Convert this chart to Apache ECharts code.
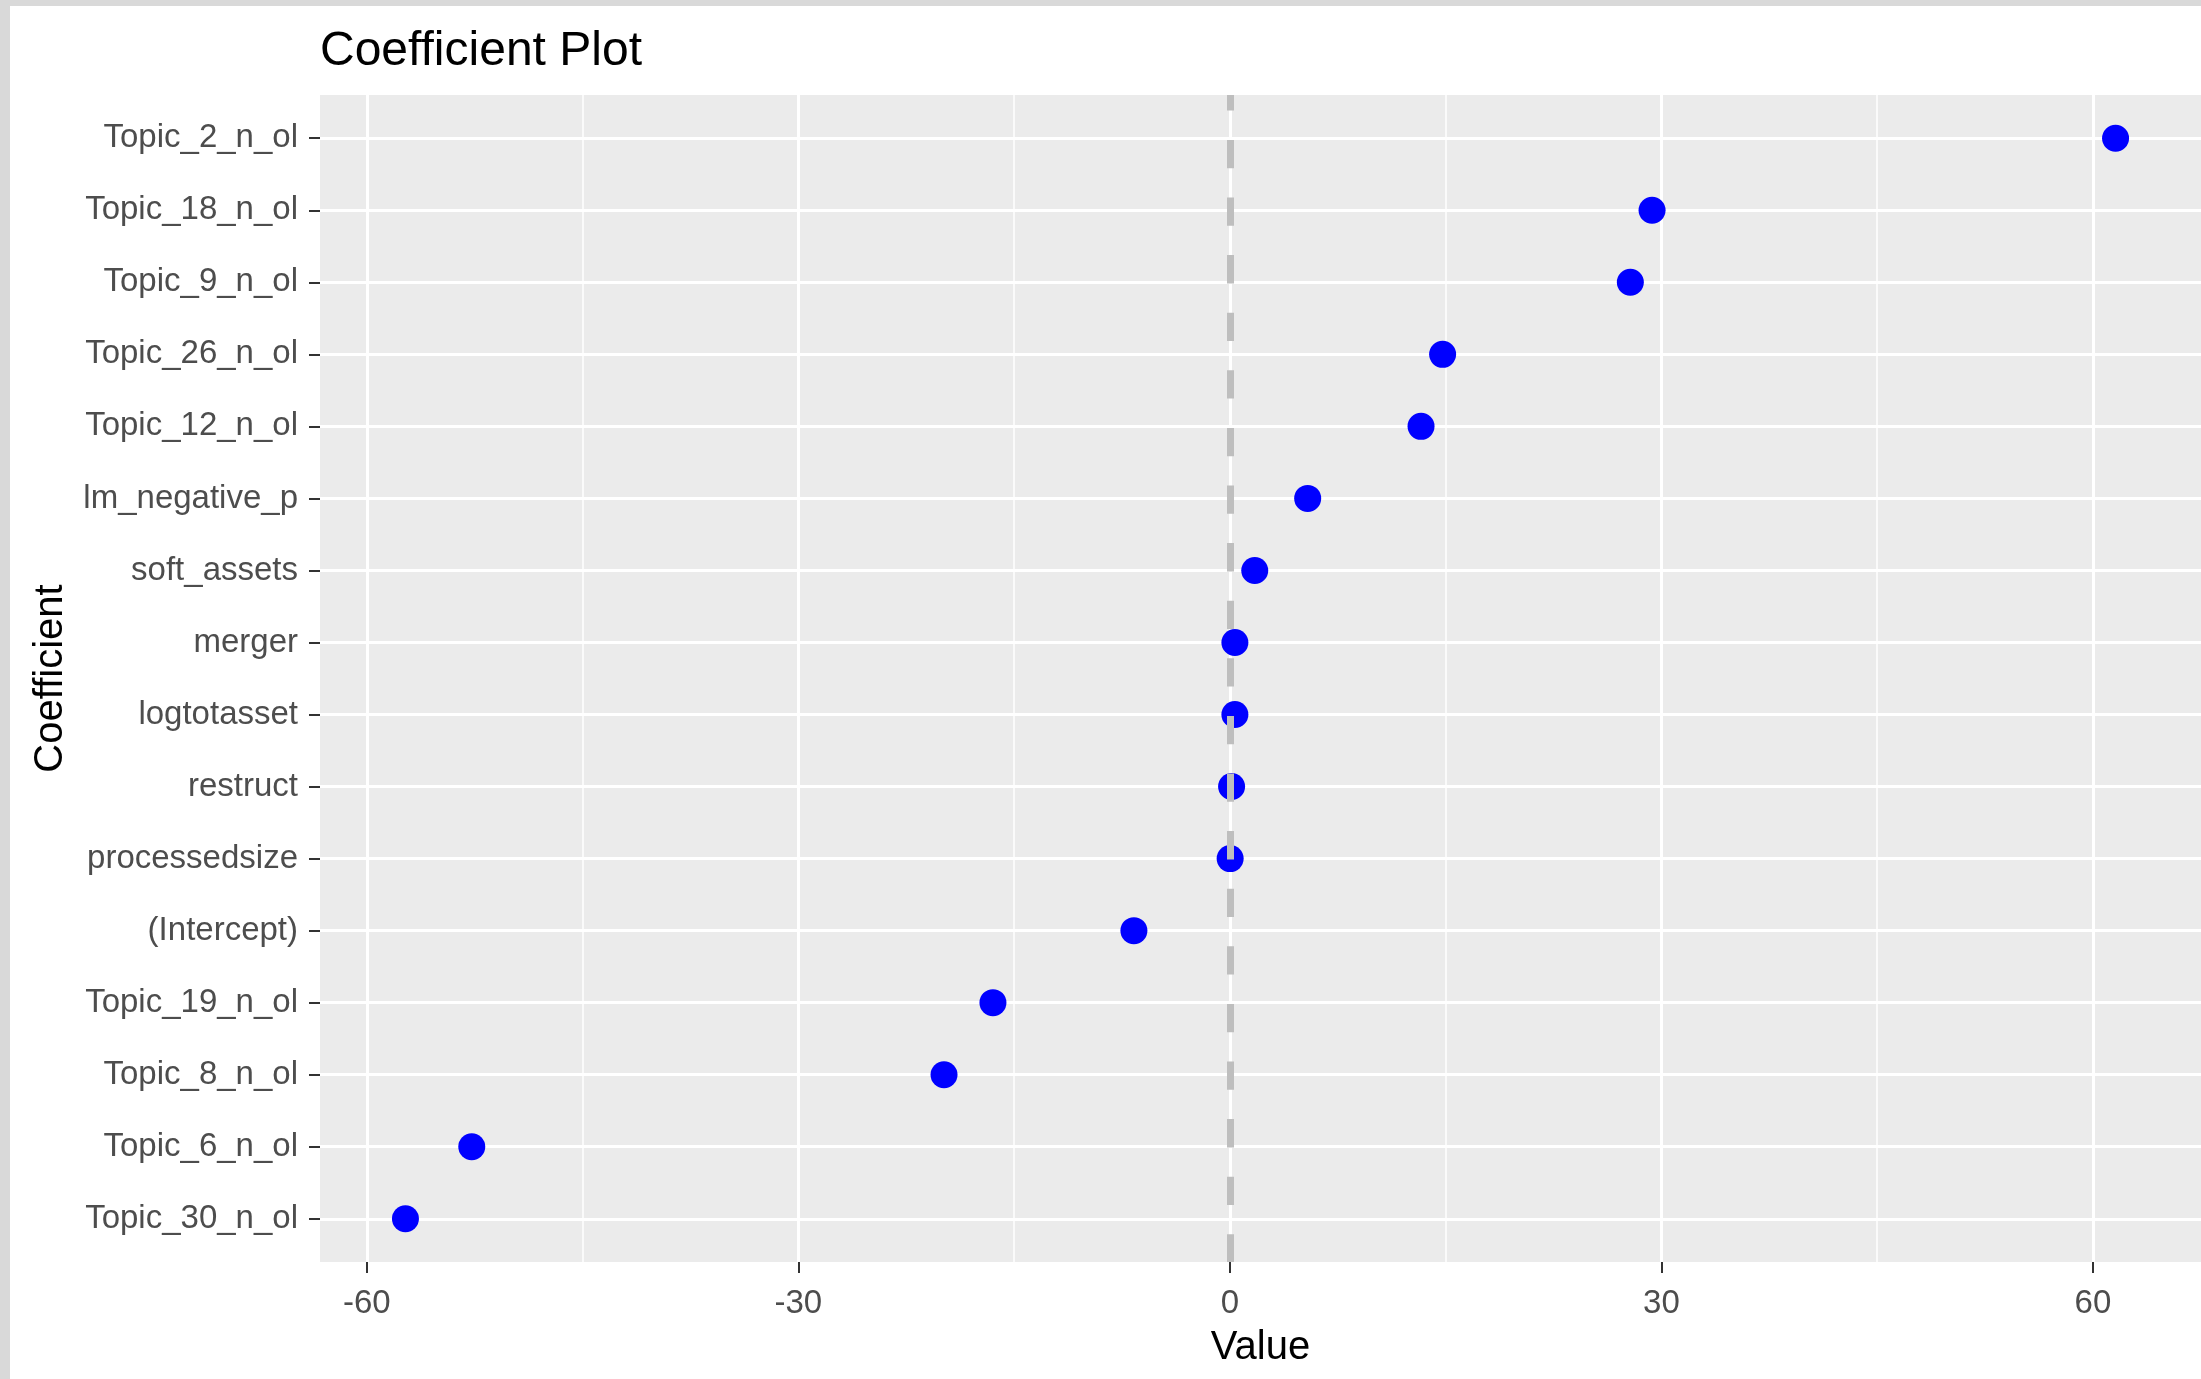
<!DOCTYPE html>
<html>
<head>
<meta charset="utf-8">
<title>Coefficient Plot</title>
<script src="https://cdn.jsdelivr.net/npm/echarts@6/dist/echarts.min.js"></script>
<style>
  html, body {
    margin: 0;
    padding: 0;
    width: 2201px;
    height: 1379px;
    overflow: hidden;
    background: #d9d9d9;
  }
  #chart_coef {
    position: absolute;
    left: 10px;
    top: 6px;
    width: 2191px;
    height: 1373px;
    background: #ffffff;
  }
</style>
</head>
<body>
<div id="chart_coef"></div>
<script>
// coefficient names, top to bottom
var coefNames = [
  "Topic_2_n_ol",
  "Topic_18_n_ol",
  "Topic_9_n_ol",
  "Topic_26_n_ol",
  "Topic_12_n_ol",
  "lm_negative_p",
  "soft_assets",
  "merger",
  "logtotasset",
  "restruct",
  "processedsize",
  "(Intercept)",
  "Topic_19_n_ol",
  "Topic_8_n_ol",
  "Topic_6_n_ol",
  "Topic_30_n_ol"
];
// estimated coefficient values
var coefValues = [61.57, 29.35, 27.84, 14.79, 13.29, 5.41, 1.73, 0.35, 0.35, 0.12, 0.02, -6.67, -16.47, -19.87, -52.7, -57.31];
var xTicks = [-60, -30, 0, 30, 60];
var xMinorTicks = [-45, -15, 15, 45];

var fontFamily = "Liberation Sans, Arial, sans-serif";
var yIndex = coefNames.map(function(n, i) { return i; });
var points = coefValues.map(function(v, i) { return [v, i]; });

var myChart = echarts.init(document.getElementById("chart_coef"));
var option = {
  animation: false,
  title: {
    text: "Coefficient Plot",
    left: 310,
    top: 22,
    padding: 0,
    textStyle: {
      fontFamily: fontFamily,
      fontSize: 48,
      fontWeight: "normal",
      color: "#000000"
    }
  },
  grid: {
    left: 310,
    top: 89,
    right: 0,
    bottom: 117,
    show: true,
    backgroundColor: "#EBEBEB",
    borderWidth: 0
  },
  xAxis: [
    {
      type: "value",
      min: -63.25,
      max: 67.51,
      axisLine: { show: false, onZero: false },
      axisTick: {
        show: true,
        length: 11,
        customValues: xTicks,
        lineStyle: { color: "#333333", width: 2 }
      },
      axisLabel: {
        customValues: xTicks,
        margin: 25,
        color: "#4D4D4D",
        fontFamily: fontFamily,
        fontSize: 33
      },
      splitLine: {
        show: true,
        lineStyle: { color: "#FFFFFF", width: 3 }
      },
      name: "Value",
      nameLocation: "middle",
      nameGap: 66,
      nameTextStyle: {
        color: "#000000",
        fontFamily: fontFamily,
        fontSize: 40
      }
    },
    {
      // minor grid lines only
      type: "value",
      position: "bottom",
      min: -63.25,
      max: 67.51,
      axisLine: { show: false, onZero: false },
      axisTick: { show: false, customValues: xMinorTicks },
      axisLabel: { show: false, customValues: xMinorTicks },
      splitLine: {
        show: true,
        lineStyle: { color: "#FFFFFF", width: 1.5 }
      }
    }
  ],
  yAxis: {
    type: "value",
    inverse: true,
    min: -0.6,
    max: 15.6,
    axisLine: { show: false, onZero: false },
    axisTick: {
      show: true,
      length: 11,
      customValues: yIndex,
      lineStyle: { color: "#333333", width: 2 }
    },
    axisLabel: {
      customValues: yIndex,
      margin: 22,
      padding: [10, 0, 0, 0],
      color: "#4D4D4D",
      fontFamily: fontFamily,
      fontSize: 33,
      formatter: function(v) {
        return coefNames[Math.round(v)];
      }
    },
    splitLine: {
      show: true,
      lineStyle: { color: "#FFFFFF", width: 3 }
    },
    name: "Coefficient",
    nameLocation: "middle",
    nameGap: 249,
    nameTextStyle: {
      color: "#000000",
      fontFamily: fontFamily,
      fontSize: 40
    }
  },
  series: [
    {
      // dashed zero line
      type: "scatter",
      data: [],
      z: 1,
      markLine: {
        silent: true,
        symbol: "none",
        label: { show: false },
        lineStyle: {
          color: "#BEBEBE",
          width: 7,
          type: [28.3, 29.3],
          dashOffset: 12.7
        },
        data: [{ xAxis: 0 }]
      }
    },
    {
      name: "coef",
      type: "scatter",
      z: 3,
      symbolSize: 27,
      itemStyle: { color: "#0000FF", opacity: 1 },
      data: points
    }
  ]
};
myChart.setOption(option, true);
</script>
</body>
</html>
